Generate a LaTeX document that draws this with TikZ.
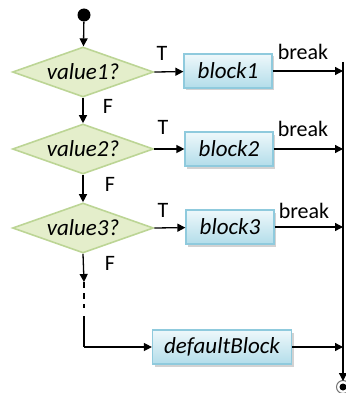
\documentclass[tikz,border=0pt]{standalone}
\usepackage{fontspec}
\setmainfont{Carlito}
\usetikzlibrary{shapes.geometric,arrows.meta,shadows}
\definecolor{dfill}{HTML}{E4EECB}
\definecolor{dline}{HTML}{BCD595}
\definecolor{btop}{HTML}{EEF8FB}
\definecolor{bbot}{HTML}{B3DDEA}
\definecolor{bline}{HTML}{8FCADD}
\tikzset{
  flow/.style={line width=1.3pt,-{Triangle[length=8pt,width=8pt]}},
  plain/.style={line width=1.3pt},
  decision/.style={diamond,aspect=2.8,draw=dline,line width=1.6pt,fill=dfill,
    minimum width=141pt,minimum height=50pt,inner sep=0pt,
    font=\fontsize{23}{25}\selectfont\itshape},
  blockbox/.style={rectangle,draw=bline,line width=1.2pt,
    top color=btop,bottom color=bbot,
    drop shadow={shadow xshift=2pt,shadow yshift=-2.5pt,fill=black!35,opacity=0.5},
    minimum height=34pt,inner sep=0pt,
    font=\fontsize{23}{25}\selectfont\itshape},
  lbl/.style={font=\fontsize{22}{24}\selectfont,inner sep=0pt}
}
\begin{document}
\begin{tikzpicture}[x=1pt,y=-1pt]
  \useasboundingbox (0,0) rectangle (345,393);
  % start point
  \node[circle,fill=black,minimum size=13pt,inner sep=0pt] (start) at (84,15) {};
  % decisions
  \node[decision] (d1) at (83,72) {value1?};
  \node[decision] (d2) at (83,149) {value2?};
  \node[decision] (d3) at (83,228) {value3?};
  % blocks
  \node[blockbox,minimum width=88pt] (b1) at (228,71) {block1};
  \node[blockbox,minimum width=88pt] (b2) at (229,149) {block2};
  \node[blockbox,minimum width=88pt] (b3) at (230,227) {block3};
  \node[blockbox,minimum width=139pt] (bd) at (222,347) {defaultBlock};
  % helper points
  \coordinate (rtop) at (343,62);
  \coordinate (r1) at (343,71);
  \coordinate (r2) at (343,149);
  \coordinate (r3) at (343,227);
  \coordinate (rd) at (343,347);
  \coordinate (rend) at (343,381);
  \coordinate (f3) at (84,282);
  \coordinate (dashend) at (84,321);
  \coordinate (corner) at (84,347);
  % end point
  \node[circle,draw=black!55,line width=1pt,fill=white,minimum size=13pt,inner sep=0pt] (stop) at (343,387) {};
  \node[circle,fill=black,minimum size=7pt,inner sep=0pt] (stopdot) at (stop.center) {};
  % main chain
  \draw[flow] (start) -- (d1);
  \draw[flow] (d1) -- (d2);
  \draw[flow] (d2) -- (d3);
  \draw[flow] (d3.south) -- (f3);
  \draw[plain,dash pattern=on 6pt off 5pt on 6pt off 5pt on 4pt off 8pt] (f3) -- (dashend);
  \draw[plain] (dashend) -- (corner);
  \draw[flow] (corner) -- (bd);
  % true branches
  \draw[flow] (d1.east) -- (b1);
  \draw[flow] (d2.east) -- (b2);
  \draw[flow] (d3.east) -- (b3);
  % breaks to the exit line
  \draw[flow] (b1) -- (r1);
  \draw[flow] (b2) -- (r2);
  \draw[flow] (b3) -- (r3);
  \draw[flow] (bd) -- (rd);
  \draw[plain] (rtop) -- (r1);
  \draw[flow] (r1) -- (rend);
  % labels
  \node[lbl] (t1) at (162,53) {T};
  \node[lbl] (t2) at (163,127) {T};
  \node[lbl] (t3) at (163,210) {T};
  \node[lbl] (k1) at (303,52) {break};
  \node[lbl] (k2) at (303,129) {break};
  \node[lbl] (k3) at (304,211) {break};
  \node[lbl] (n1) at (108,106) {F};
  \node[lbl] (n2) at (110,184) {F};
  \node[lbl] (n3) at (110,263) {F};
\end{tikzpicture}
\end{document}
